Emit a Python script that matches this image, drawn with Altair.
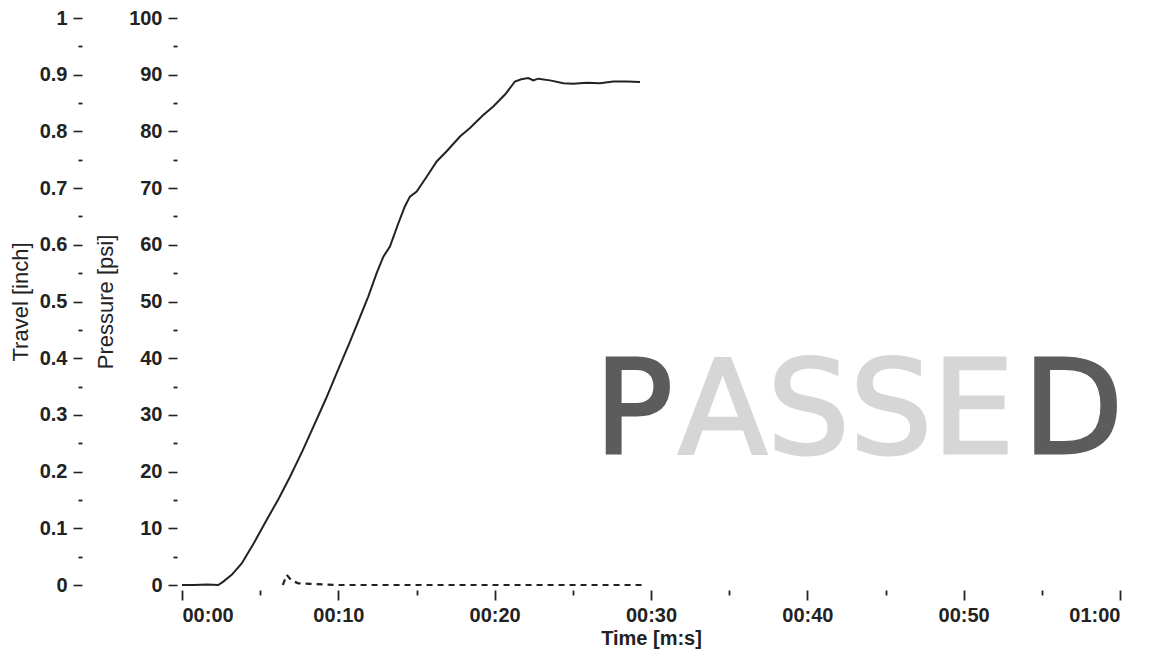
import altair as alt
import pandas as pd

# Pressure trace [psi] vs time [s]
p_time = [0.0, 0.8, 1.6, 2.32, 2.64, 3.18, 3.82, 4.6, 5.42, 6.2, 6.91, 7.7, 8.40, 9.2, 9.90,
          10.7, 11.39, 11.92, 12.45, 12.88, 13.3, 13.84, 14.26, 14.58, 15.01, 15.65, 16.29,
          16.93, 17.78, 18.42, 19.27, 19.91, 20.66, 21.3, 21.7, 22.15, 22.47, 22.79, 23.54,
          24.39, 25.03, 25.89, 26.74, 27.59, 28.45, 29.3]
p_val = [0.0, 0.0, 0.1, 0.0, 0.6, 1.8, 3.8, 7.4, 11.5, 15.3, 19.1, 23.6, 27.9, 32.8, 37.4,
         42.6, 47.3, 50.9, 55.0, 57.9, 59.7, 63.8, 66.8, 68.5, 69.4, 72.0, 74.7,
         76.5, 79.1, 80.6, 82.9, 84.4, 86.5, 88.8, 89.2, 89.4, 89.0, 89.3, 89.0,
         88.5, 88.4, 88.6, 88.5, 88.8, 88.8, 88.7]

# Travel trace [inch] vs time [s]
t_time = [6.45, 6.7, 7.0, 7.44, 8.19, 10.0, 12.0, 15.0, 18.0, 21.0, 24.0, 27.0, 29.5]
t_val = [0.0, 0.018, 0.008, 0.003, 0.002, 0.0, 0.0, 0.0, 0.0, 0.0, 0.0, 0.0, 0.0]

x_major = [0, 10, 20, 30, 40, 50, 60]
x_minor = [5, 15, 25, 35, 45, 55]
p_major = [0, 10, 20, 30, 40, 50, 60, 70, 80, 90, 100]
p_minor = [5, 15, 25, 35, 45, 55, 65, 75, 85, 95]
tr_major = [0, 0.1, 0.2, 0.3, 0.4, 0.5, 0.6, 0.7, 0.8, 0.9, 1.0]
tr_minor = [0.05, 0.15, 0.25, 0.35, 0.45, 0.55, 0.65, 0.75, 0.85, 0.95]

# "PASSED" stamp, split in three parts (outer letters dark, middle faded)
stamp_parts = ["P", "ASSE", "D"]
stamp_x = [28.9, 42.5, 57.0]
stamp_y = [23.2, 23.2, 23.2]
stamp_shade = ["dark", "faded", "dark"]

pdf = pd.DataFrame({"t": p_time, "p": p_val})
tdf = pd.DataFrame({"t": t_time, "v": t_val})
sdf = pd.DataFrame({"t": stamp_x, "p": stamp_y, "label": stamp_parts, "shade": stamp_shade})

FONT = "Liberation Sans"
INK = "#222222"

xs = alt.Scale(domain=[0, 60], nice=False, zero=False)
ps = alt.Scale(domain=[0, 100], nice=False)
ts = alt.Scale(domain=[0, 1], nice=False)

x_axis_major = alt.Axis(
    orient="bottom", offset=5, values=x_major, tickSize=10, tickWidth=1.8, tickColor=INK,
    domain=False, grid=False, labelFont=FONT, labelFontSize=20, labelFontWeight="bold",
    labelColor=INK, labelPadding=5,
    labelExpr="datum.value == 60 ? '01:00' : '00:' + (datum.value < 10 ? '0' : '') + datum.value",
    title="Time [m:s]", titleFont=FONT, titleFontSize=20, titleFontWeight="bold",
    titleColor=INK, titlePadding=3,
)
x_axis_minor = alt.Axis(
    orient="bottom", offset=5, values=x_minor, tickSize=5, tickWidth=1.8, tickColor=INK,
    domain=False, grid=False, labels=False, title=None,
)
p_axis_major = alt.Axis(
    orient="left", offset=5, values=p_major, tickSize=9, tickWidth=1.6, tickColor=INK,
    domain=False, grid=False, labelFont=FONT, labelFontSize=20, labelFontWeight="bold",
    labelColor=INK, labelPadding=6,
    title="Pressure [psi]", titleFont=FONT, titleFontSize=22, titleFontWeight="normal",
    titleColor=INK, titlePadding=11,
)
p_axis_minor = alt.Axis(
    orient="left", offset=5, values=p_minor, tickSize=4, tickWidth=1.8, tickColor=INK,
    domain=False, grid=False, labels=False, title=None,
)
t_axis_major = alt.Axis(
    orient="left", offset=100, values=tr_major, format="~g", tickSize=9, tickWidth=1.6,
    tickColor=INK, domain=False, grid=False, labelFont=FONT, labelFontSize=20,
    labelFontWeight="bold", labelColor=INK, labelPadding=6,
    title="Travel [inch]", titleFont=FONT, titleFontSize=22, titleFontWeight="normal",
    titleColor=INK, titlePadding=7,
)
t_axis_minor = alt.Axis(
    orient="left", offset=100, values=tr_minor, tickSize=4, tickWidth=1.8, tickColor=INK,
    domain=False, grid=False, labels=False, title=None,
)

pressure = alt.Chart(pdf).mark_line(color=INK, strokeWidth=2).encode(
    x=alt.X("t:Q", scale=xs, axis=x_axis_major),
    y=alt.Y("p:Q", scale=ps, axis=p_axis_major),
)
pressure_minor = alt.Chart(pdf).mark_line(opacity=0).encode(
    x=alt.X("t:Q", scale=xs, axis=x_axis_minor),
    y=alt.Y("p:Q", scale=ps, axis=p_axis_minor),
)
travel = alt.Chart(tdf).mark_line(color=INK, strokeWidth=2.2, strokeDash=[6, 5]).encode(
    x=alt.X("t:Q", scale=xs, axis=None),
    y=alt.Y("v:Q", scale=ts, axis=t_axis_major),
)
travel_minor = alt.Chart(tdf).mark_line(opacity=0).encode(
    x=alt.X("t:Q", scale=xs, axis=None),
    y=alt.Y("v:Q", scale=ts, axis=t_axis_minor),
)
shade_scale = alt.Scale(domain=["dark", "faded"], range=["#5c5c5c", "#d6d6d6"])
stamp = alt.Chart(sdf).mark_text(
    font="DejaVu Sans", fontSize=130, fontWeight="normal", strokeWidth=3,
    align="center", baseline="alphabetic",
).encode(
    x=alt.X("t:Q", scale=xs, axis=None),
    y=alt.Y("p:Q", scale=ps, axis=None),
    text="label:N",
    color=alt.Color("shade:N", scale=shade_scale, legend=None),
    stroke=alt.Stroke("shade:N", scale=shade_scale, legend=None),
)

chart = alt.layer(stamp, pressure_minor, pressure, travel_minor, travel).resolve_scale(
    x="independent", y="independent", color="independent", stroke="independent"
).properties(
    width=938, height=567,
    autosize=alt.AutoSizeParams(type="none"),
    padding={"left": 174, "top": 10, "right": 20, "bottom": 65},
    background="white",
).configure_view(stroke=None)

chart.save("out.html", embed_options={"renderer": "svg", "actions": False})
